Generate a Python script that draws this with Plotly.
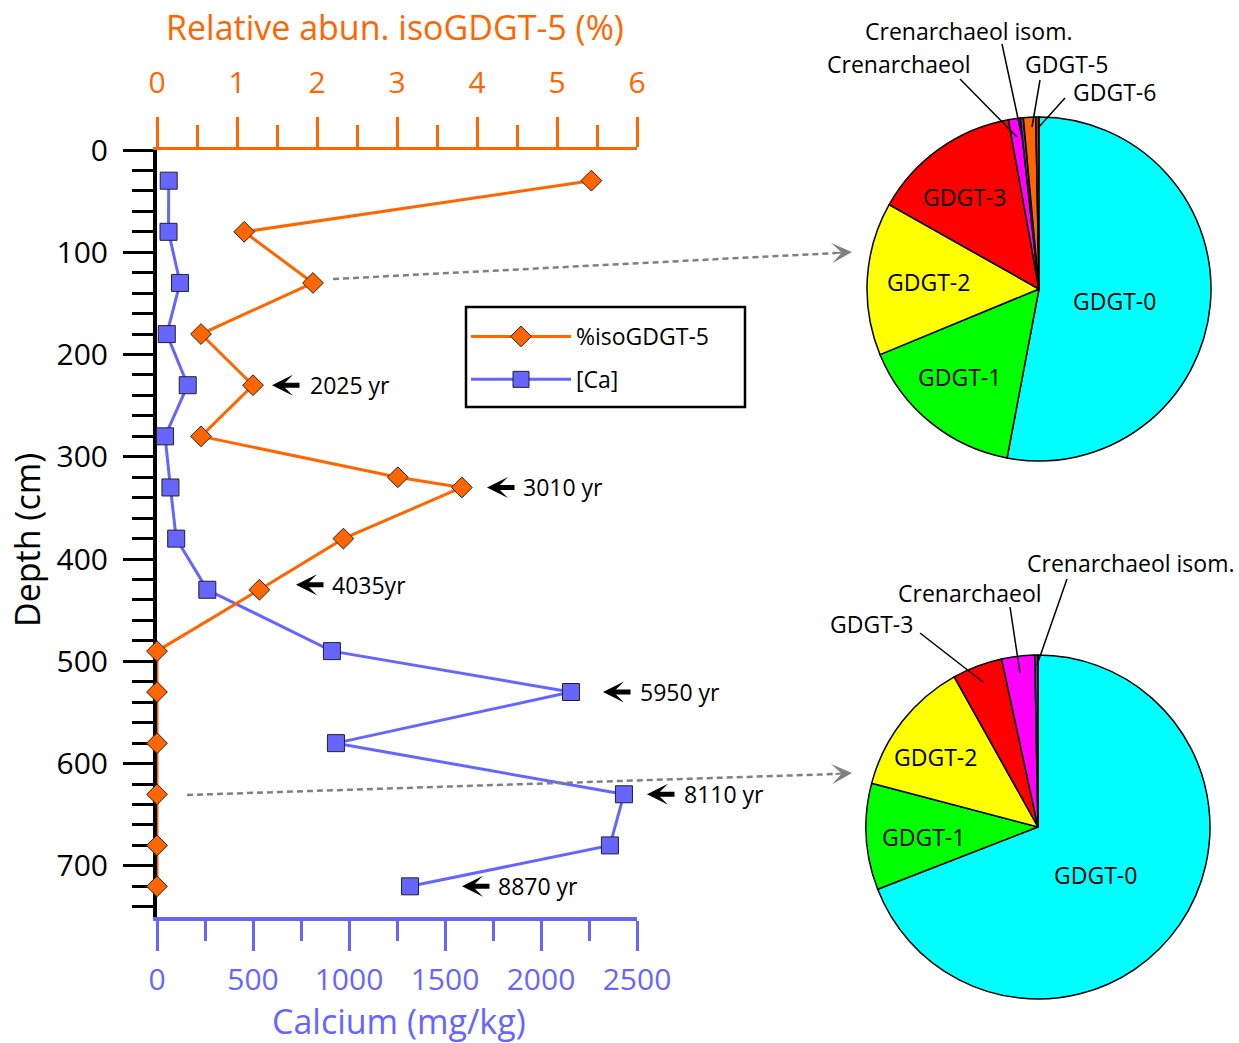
import plotly.graph_objects as go

W, H = 1239, 1043
FONT = "Open Sans"
ORANGE = "#FF6600"
BLUE = "#6666FF"
GREY = "#808080"

# ---- core profile data -------------------------------------------------
iso_depth_cm = [30, 80, 130, 180, 230, 280, 320, 330, 380, 430, 490, 530, 580, 630, 680, 720]
iso_gdgt5_pct = [5.43, 1.09, 1.95, 0.55, 1.20, 0.55, 3.01, 3.81, 2.33, 1.28, 0, 0, 0, 0, 0, 0]

ca_depth_cm = [30, 80, 130, 180, 230, 280, 330, 380, 430, 490, 530, 580, 630, 680, 720]
calcium_mg_kg = [61, 60, 120, 51, 160, 42, 70, 100, 262, 911, 2156, 932, 2432, 2359, 1318]

# radiocarbon ages marked beside the profile
age_labels = ["2025 yr", "3010 yr", "4035yr", "5950 yr", "8110 yr", "8870 yr"]
age_depth_cm = [230, 330, 425, 530, 630, 720]

# ---- GDGT distributions -------------------------------------------------
pie_top_labels = ["GDGT-0", "GDGT-1", "GDGT-2", "GDGT-3", "Crenarchaeol",
                  "Crenarchaeol isom.", "GDGT-5", "GDGT-6"]
pie_top_values = [53.0, 15.8, 14.4, 14.0, 1.1, 0.3, 1.15, 0.3]

pie_bottom_labels = ["GDGT-0", "GDGT-1", "GDGT-2", "GDGT-3", "Crenarchaeol",
                     "Crenarchaeol isom."]
pie_bottom_values = [69.1, 10.0, 12.8, 4.7, 3.1, 0.3]

slice_colors = {
    "GDGT-0": "#00FFFF", "GDGT-1": "#00FF00", "GDGT-2": "#FFFF00",
    "GDGT-3": "#FF0000", "Crenarchaeol": "#FF00FF",
    "Crenarchaeol isom.": "#7030A0", "GDGT-5": "#FF6600", "GDGT-6": "#993300",
}


def px(x):
    return x / W


def py(y):
    return 1 - y / H


fig = go.Figure()

fig.add_trace(go.Scatter(
    x=calcium_mg_kg, y=ca_depth_cm, xaxis="x", yaxis="y",
    mode="lines+markers", name="[Ca]", legendrank=2, legendgroup="ca",
    line=dict(color=BLUE, width=3),
    marker=dict(symbol="square", size=17, color=BLUE, line=dict(color="#222", width=1)),
    cliponaxis=False,
))
fig.add_trace(go.Scatter(
    x=iso_gdgt5_pct, y=iso_depth_cm, xaxis="x2", yaxis="y",
    mode="lines+markers", name="%isoGDGT-5", legendrank=1, legendgroup="iso",
    line=dict(color=ORANGE, width=3),
    marker=dict(symbol="diamond", size=16, color=ORANGE, line=dict(color="#222", width=1)),
    cliponaxis=False,
))

pie_line = dict(color="black", width=1.5)
fig.add_trace(go.Pie(
    labels=pie_top_labels, values=pie_top_values, sort=False, direction="clockwise",
    rotation=0, textinfo="none", showlegend=False, hoverinfo="label+percent",
    marker=dict(colors=[slice_colors[l] for l in pie_top_labels], line=pie_line),
    domain=dict(x=[px(867), px(1211)], y=[py(461), py(117)]),
))
fig.add_trace(go.Pie(
    labels=pie_bottom_labels, values=pie_bottom_values, sort=False, direction="clockwise",
    rotation=0, textinfo="none", showlegend=False, hoverinfo="label+percent",
    marker=dict(colors=[slice_colors[l] for l in pie_bottom_labels], line=pie_line),
    domain=dict(x=[px(866), px(1210)], y=[py(999), py(655)]),
))

x_dom = [px(157), px(637)]
y_dom = [py(917), py(150)]


def tickfont(c):
    return dict(family=FONT, size=30, color=c)


fig.update_layout(
    width=W, height=H, margin=dict(l=0, r=0, t=0, b=0), autosize=False,
    paper_bgcolor="white", plot_bgcolor="white",
    font=dict(family=FONT, size=23, color="black"),
    xaxis=dict(
        domain=x_dom, range=[0, 2500], anchor="y", side="bottom",
        showgrid=False, zeroline=False, showline=True, linecolor=BLUE, linewidth=4,
        ticks="outside", ticklen=30, tickwidth=3, tickcolor=BLUE, dtick=500, tick0=0,
        minor=dict(dtick=250, ticks="outside", ticklen=20, tickwidth=3, tickcolor=BLUE, showgrid=False),
        tickfont=tickfont(BLUE), ticklabelstandoff=3, automargin=False, layer="below traces",
    ),
    xaxis2=dict(
        domain=x_dom, range=[0, 6], anchor="y", overlaying="x", side="top",
        showgrid=False, zeroline=False, showline=True, linecolor=ORANGE, linewidth=3,
        ticks="outside", ticklen=30, tickwidth=3, tickcolor=ORANGE, dtick=1, tick0=0,
        minor=dict(dtick=0.5, ticks="outside", ticklen=22, tickwidth=3, tickcolor=ORANGE, showgrid=False),
        tickfont=tickfont(ORANGE), ticklabelstandoff=12, automargin=False, layer="below traces",
    ),
    yaxis=dict(
        domain=y_dom, range=[750, 0], anchor="x",
        showgrid=False, zeroline=False, showline=True, linecolor="black", linewidth=4,
        ticks="outside", ticklen=30, tickwidth=3, tickcolor="black", dtick=100, tick0=0,
        minor=dict(dtick=20, ticks="outside", ticklen=21, tickwidth=3, tickcolor="black", showgrid=False),
        tickfont=tickfont("black"), ticklabelstandoff=9, automargin=False, layer="below traces",
    ),
    legend=dict(
        x=px(466), y=py(315), xanchor="left", yanchor="top",
        borderwidth=0, bgcolor="rgba(0,0,0,0)",
        font=dict(family=FONT, size=23, color="black"),
        itemwidth=100, traceorder="grouped", tracegroupgap=10,
    ),
)

ann = []


def label(text, x, y, size=23, color="black", **kw):
    d = dict(text=text, x=px(x), y=py(y), xref="paper", yref="paper", showarrow=False,
             xanchor="center", yanchor="middle", font=dict(family=FONT, size=size, color=color))
    d.update(kw)
    return d


# axis titles
ann.append(label("Relative abun. isoGDGT-5 (%)", 395, 27, size=34, color=ORANGE))
ann.append(label("Calcium (mg/kg)", 399, 1021, size=34, color=BLUE))
ann.append(label("Depth (cm)", 27, 540, size=34, textangle=-90))

# age markers: arrow head pixel x, label left edge pixel x
age_arrow_x = [272, 487, 296, 603, 647, 462]
age_text_x = [308, 521, 330, 638, 682, 496]
for lab, d, ax_, tx in zip(age_labels, age_depth_cm, age_arrow_x, age_text_x):
    ann.append(dict(text="", x=px(ax_), y=d, xref="paper", yref="y", showarrow=True,
                    ax=29, ay=0, axref="pixel", ayref="pixel", arrowhead=3, arrowwidth=5,
                    arrowsize=0.7, arrowcolor="black", standoff=0))
    ann.append(dict(text=lab, x=px(tx), y=d, xref="paper", yref="y", xanchor="left",
                    yanchor="middle", showarrow=False,
                    font=dict(family=FONT, size=23, color="black")))

shapes = []
# frame around the legend
shapes.append(dict(type="rect", xref="paper", yref="paper", x0=px(466), y0=py(407),
                   x1=px(745), y1=py(307), line=dict(color="black", width=2.5),
                   fillcolor="rgba(0,0,0,0)"))

# grey dashed pointers from sample depths to the distributions
for (x0, y0, x1, y1) in [(333, 279, 836, 253), (187, 795, 836, 774)]:
    shapes.append(dict(type="line", xref="paper", yref="paper", x0=px(x0), y0=py(y0),
                       x1=px(x1), y1=py(y1), line=dict(color=GREY, width=2.5, dash="6px,4px")))
for (hx, hy) in [(852, 252), (852, 773)]:
    ann.append(dict(text="", x=px(hx), y=py(hy), xref="paper", yref="paper", showarrow=True,
                    ax=-18, ay=1, axref="pixel", ayref="pixel", arrowhead=3, arrowwidth=2,
                    arrowsize=1.7, arrowcolor=GREY, standoff=0))

# slice names inside the pies
inside = [("GDGT-0", 1114, 301), ("GDGT-1", 959, 377), ("GDGT-2", 928, 282), ("GDGT-3", 964, 197),
          ("GDGT-0", 1095, 875), ("GDGT-1", 923, 837), ("GDGT-2", 935, 757)]
for t, x, y in inside:
    ann.append(label(t, x, y))

# small slices labelled outside with leader lines
outside = [("Crenarchaeol isom.", 968, 31), ("Crenarchaeol", 899, 64), ("GDGT-5", 1066, 64),
           ("GDGT-6", 1114, 92), ("Crenarchaeol isom.", 1130, 563), ("Crenarchaeol", 970, 593),
           ("GDGT-3", 871, 624)]
for t, x, y in outside:
    ann.append(label(t, x, y))
leaders = [(1002, 44, 1022, 137), (960, 79, 1017, 137), (1040, 80, 1032, 127), (1065, 98, 1038, 128),
           (1067, 579, 1037, 665), (1010, 607, 1020, 673), (920, 633, 983, 682)]
for (x0, y0, x1, y1) in leaders:
    shapes.append(dict(type="line", xref="paper", yref="paper", x0=px(x0), y0=py(y0),
                       x1=px(x1), y1=py(y1), line=dict(color="black", width=1.5)))

fig.update_layout(annotations=ann, shapes=shapes)
fig.write_html("out.html")
